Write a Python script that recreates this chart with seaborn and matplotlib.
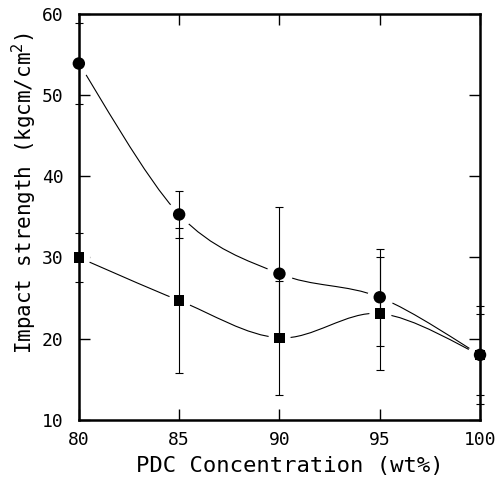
import numpy as np
import pandas as pd
import seaborn as sns
import matplotlib.pyplot as plt
from matplotlib.path import Path
from matplotlib.patches import PathPatch

# data
conc = [80, 85, 90, 95, 100]
circle_vals = [53.9, 35.3, 28.0, 25.1, 18.0]
circle_err = [5.0, 2.9, 8.2, 6.0, 5.0]
square_vals = [30.0, 24.7, 20.1, 23.1, 18.0]
square_err = [3.0, 8.9, 7.0, 7.0, 6.0]

sns.set_theme(style="ticks")
plt.rcParams['font.family'] = ['DejaVu Sans Mono', 'DejaVu Sans']
plt.rcParams['text.color'] = 'black'
plt.rcParams['axes.labelcolor'] = 'black'

fig = plt.figure(figsize=(4.99, 4.82), dpi=100)
ax = fig.add_axes([0.158, 0.129, 0.804, 0.842])


def smooth_path(xs, ys):
    # Catmull-Rom through the points, drawn as bezier segments
    pts = np.column_stack([xs, ys]).astype(float)
    verts = [tuple(pts[0])]
    codes = [Path.MOVETO]
    n = len(pts)
    for i in range(n - 1):
        p0 = pts[max(i - 1, 0)]
        p1 = pts[i]
        p2 = pts[i + 1]
        p3 = pts[min(i + 2, n - 1)]
        c1 = p1 + (p2 - p0) / 6.0
        c2 = p2 - (p3 - p1) / 6.0
        verts += [tuple(c1), tuple(c2), tuple(p2)]
        codes += [Path.CURVE4] * 3
    return Path(verts, codes)


for vals in (circle_vals, square_vals):
    ax.add_patch(PathPatch(smooth_path(conc, vals), facecolor='none',
                           edgecolor='black', lw=0.8, zorder=1))

df = pd.DataFrame({
    'conc': conc * 2,
    'val': circle_vals + square_vals,
    'kind': ['circle'] * 5 + ['square'] * 5,
})

# white halos leave the small gaps around the markers
ax.scatter(conc, circle_vals, s=18 ** 2, color='white', zorder=2)
ax.scatter(conc, square_vals, s=15 ** 2, color='white', zorder=2)

ax.errorbar(conc, circle_vals, yerr=circle_err, fmt='none', ecolor='black',
            elinewidth=0.8, capsize=3, capthick=0.8, zorder=3, clip_on=False)
ax.errorbar(conc, square_vals, yerr=square_err, fmt='none', ecolor='black',
            elinewidth=0.8, capsize=3, capthick=0.8, zorder=3, clip_on=False)

sns.scatterplot(data=df, x='conc', y='val', style='kind',
                markers={'circle': 'o', 'square': 's'},
                size='kind', sizes={'circle': 80, 'square': 55},
                color='black', edgecolor='black', linewidth=0,
                legend=False, ax=ax, zorder=4, clip_on=False)

ax.set_xlim(80, 100)
ax.set_ylim(10, 60)
ax.set_xticks([80, 85, 90, 95, 100])
ax.set_yticks([10, 20, 30, 40, 50, 60])
ax.tick_params(direction='in', length=8, width=1.0, top=True, right=True,
               labelsize=13, colors='black')
ax.tick_params(axis='x', pad=8)
ax.tick_params(axis='y', pad=11)
for s in ax.spines.values():
    s.set_linewidth(1.8)
    s.set_color('black')

ax.set_xlabel('PDC Concentration (wt%)', fontsize=16)
ax.set_ylabel('Impact strength (kgcm/cm$^{2}$)', fontsize=15)
ax.xaxis.set_label_coords(0.525, -0.09)
ax.yaxis.set_label_coords(-0.1, 0.56)

fig.savefig('out.png', dpi=100)
